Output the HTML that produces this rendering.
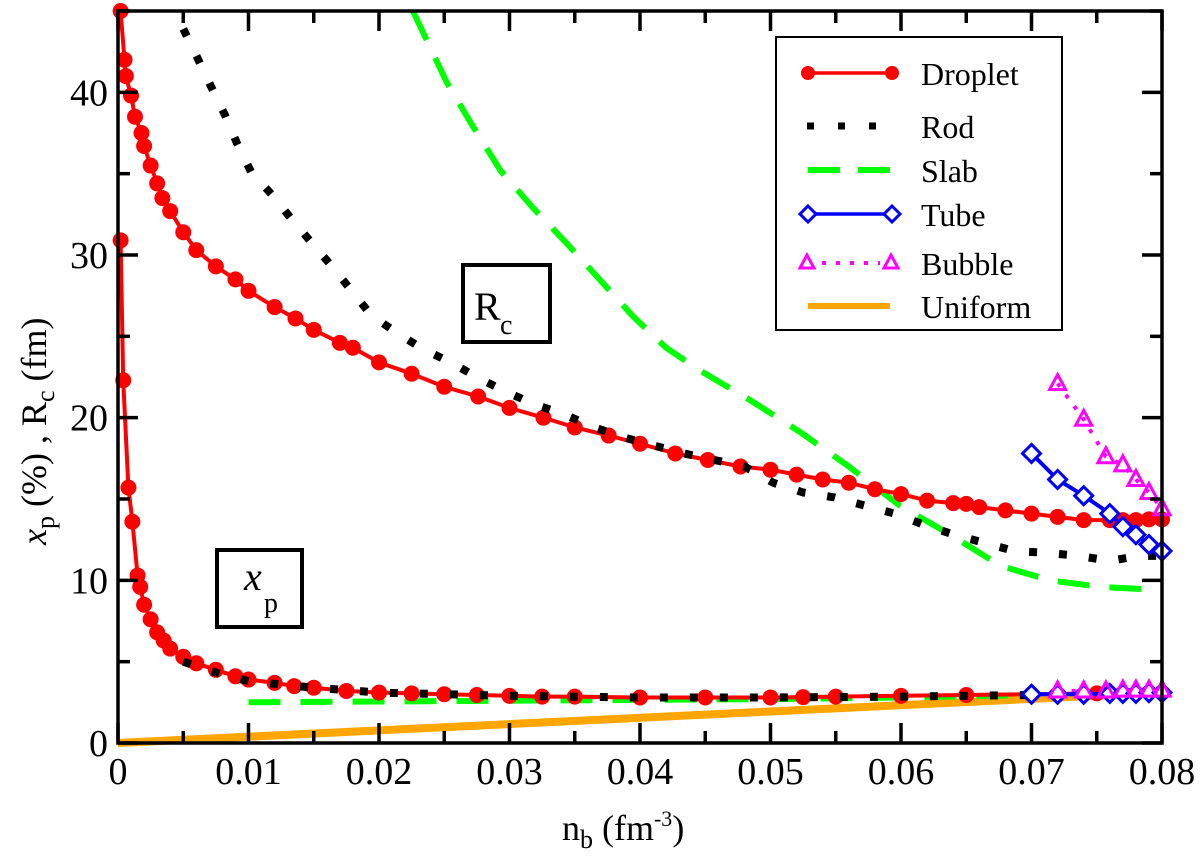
<!DOCTYPE html>
<html><head><meta charset="utf-8"><style>
html,body{margin:0;padding:0;background:#fff;}
svg, svg text{font-family:"Liberation Serif","Noto Serif CJK SC","DejaVu Serif",serif;}
</style></head><body>
<svg id="chart" width="1200" height="862" viewBox="0 0 1200 862" xmlns="http://www.w3.org/2000/svg">
<g id="marks"></g>
<rect x="118" y="11" width="1044" height="732" fill="none" stroke="#000" stroke-width="3.5"/>
<g id="axes"></g>
<g>
<rect x="463" y="265" width="87" height="77" fill="#fff" stroke="#000" stroke-width="4"/>
<text x="474" y="320" font-size="40">R</text><text x="500" y="334" font-size="28">c</text>
</g>
<g>
<rect x="217" y="550" width="85" height="77" fill="#fff" stroke="#000" stroke-width="4"/>
<text x="244" y="590" font-size="40" font-style="italic">x</text><text x="264" y="612" font-size="28">p</text>
</g>
<text x="562" y="840" font-size="36">n<tspan font-size="26" dy="8">b</tspan><tspan dy="-8"> (fm</tspan><tspan font-size="22" dy="-14">-3</tspan><tspan dy="14">)</tspan></text>
<text transform="translate(46,545) rotate(-90)" font-size="36"><tspan font-style="italic">x</tspan><tspan font-size="26" dy="8">p</tspan><tspan dy="-8"> (%) ,   R</tspan><tspan font-size="26" dy="8">c</tspan><tspan dy="-8"> (fm)</tspan></text>
<g id="legend">
<rect x="776" y="37" width="286" height="293" fill="#fff" stroke="#000" stroke-width="2"/>
</g>
</svg>
<script>
const xTicks=[0,0.01,0.02,0.03,0.04,0.05,0.06,0.07,0.08];
const xTickLabels=["0","0.01","0.02","0.03","0.04","0.05","0.06","0.07","0.08"];
const yTicks=[0,10,20,30,40];
const yTickLabels=["0","10","20","30","40"];
const dropRcX=[0.0002,0.0005,0.0006,0.001,0.0013,0.0018,0.002,0.0025,0.003,0.0034,0.004,0.005,0.006,0.0075,0.009,0.010,0.012,0.0136,0.015,0.017,0.018,0.02,0.0225,0.025,0.0276,0.03,0.0326,0.035,0.0376,0.04,0.0427,0.0452,0.0477,0.05,0.052,0.054,0.056,0.058,0.06,0.062,0.064,0.065,0.066,0.068,0.07,0.072,0.074,0.076,0.077,0.078,0.079,0.08];
const dropRcY=[45,42,41,39.8,38.5,37.5,36.7,35.5,34.4,33.5,32.7,31.4,30.3,29.3,28.5,27.8,26.8,26.1,25.4,24.6,24.3,23.4,22.7,21.9,21.3,20.6,20.0,19.4,18.9,18.4,17.8,17.4,17.0,16.8,16.5,16.2,16.0,15.6,15.3,14.9,14.75,14.7,14.5,14.3,14.1,13.9,13.7,13.7,13.7,13.7,13.75,13.75];
const dropXpX=[0.0002,0.0004,0.0008,0.0011,0.0015,0.0017,0.002,0.0025,0.003,0.0035,0.004,0.005,0.006,0.0075,0.009,0.01,0.012,0.0135,0.015,0.0175,0.02,0.0225,0.025,0.0275,0.03,0.0325,0.035,0.04,0.045,0.05,0.0525,0.055,0.06,0.065,0.07,0.075,0.08];
const dropXpY=[30.9,22.3,15.7,13.6,10.3,9.6,8.5,7.6,6.8,6.3,5.8,5.3,4.9,4.5,4.1,3.9,3.7,3.5,3.4,3.2,3.1,3.05,3.0,2.95,2.9,2.85,2.85,2.8,2.8,2.8,2.82,2.85,2.9,2.95,3.0,3.05,3.1];
const rodRcX=[0.005,0.0061,0.0071,0.0082,0.0091,0.0102,0.0118,0.0133,0.0149,0.0164,0.0179,0.0194,0.0214,0.0234,0.0255,0.0277,0.0297,0.032,0.0342,0.0365,0.0387,0.041,0.0434,0.0457,0.048,0.0502,0.0525,0.0549,0.0572,0.0595,0.0618,0.0641,0.0664,0.0687,0.0711,0.0736,0.076,0.0783,0.08];
const rodRcY=[43.9,42.1,40.4,38.6,36.9,35.1,33.7,32.2,30.7,29.3,27.8,26.3,25.2,24.2,23.4,22.4,21.6,20.8,20.2,19.4,18.8,18.3,17.8,17.4,17.0,16.0,15.4,15.1,14.6,14.1,13.4,12.8,12.3,11.8,11.7,11.5,11.2,11.5,11.5];
const rodXpX=[0.005,0.008,0.01,0.015,0.02,0.03,0.04,0.05,0.06,0.07,0.08];
const rodXpY=[5.0,4.2,3.8,3.4,3.1,2.9,2.8,2.8,2.85,2.95,3.05];
const slabRcX=[0.0226,0.0252,0.0272,0.0293,0.0318,0.0344,0.0369,0.0395,0.042,0.0446,0.0484,0.0523,0.056,0.0599,0.0638,0.0676,0.0714,0.0752,0.08];
const slabRcY=[45,40.6,37.9,35.2,32.9,30.7,28.5,26.2,24.3,22.9,21.1,19.1,17.0,14.6,12.8,10.9,10.0,9.6,9.4];
const slabXpX=[0.01,0.02,0.03,0.04,0.05,0.06,0.07];
const slabXpY=[2.5,2.55,2.6,2.65,2.7,2.8,2.95];
const tubeX=[0.070,0.072,0.074,0.076,0.077,0.078,0.079,0.08];
const tubeRcY=[17.8,16.2,15.2,14.1,13.3,12.8,12.2,11.8];
const tubeXpY=[3.0,3.0,3.0,3.05,3.05,3.05,3.1,3.1];
const bubX=[0.072,0.074,0.0757,0.077,0.078,0.079,0.08];
const bubRcY=[22.1,19.9,17.6,17.1,16.2,15.4,14.4];
const bubXpY=[3.2,3.2,3.2,3.25,3.25,3.25,3.25];
const uniX=[0,0.08];
const uniY=[0,3.1];

const NS="http://www.w3.org/2000/svg";
const X0=118,X1=1162,Y0=743,Y1=11;
function sx(v){return X0+(v-0)/(0.08)*(X1-X0);}
function sy(v){return Y0-(v-0)/(45)*(Y0-Y1);}
function mk(tag,attrs,parent){const e=document.createElementNS(NS,tag);for(const k in attrs)e.setAttribute(k,attrs[k]);parent.appendChild(e);return e;}
const marks=document.getElementById('marks');
const axes=document.getElementById('axes');
function pts(xs,ys){return xs.map((x,i)=>sx(x).toFixed(1)+','+sy(ys[i]).toFixed(1)).join(' ');}
function line(xs,ys,name,style){
  const p=mk('polyline',Object.assign({points:pts(xs,ys),fill:'none','stroke-linejoin':'round'},style),marks);
  
  
}
function circles(xs,ys,name){xs.forEach((x,i)=>{const c=mk('circle',{cx:sx(x),cy:sy(ys[i]),r:8,fill:'#f00'},marks);
  
  });}
function diamonds(xs,ys,name){xs.forEach((x,i)=>{const X=sx(x),Y=sy(ys[i]);const d=mk('polygon',{points:`${X},${Y-9} ${X+9},${Y} ${X},${Y+9} ${X-9},${Y}`,fill:'#fff',stroke:'#00f','stroke-width':3},marks);
  
  });}
function tris(xs,ys,name){xs.forEach((x,i)=>{const X=sx(x),Y=sy(ys[i]);const d=mk('polygon',{points:`${X},${Y-9} ${X+8},${Y+6} ${X-8},${Y+6}`,fill:'none',stroke:'#f0f','stroke-width':3},marks);
  
  });}

line(uniX,uniY,'uniform-line',{stroke:'#ffa500','stroke-width':8});
line(slabRcX,slabRcY,'slab-rc-line',{stroke:'#0f0','stroke-width':6,'stroke-dasharray':'32,20'});
line(slabXpX,slabXpY,'slab-xp-line',{stroke:'#0f0','stroke-width':6,'stroke-dasharray':'32,20'});
line(dropRcX,dropRcY,'droplet-rc-line',{stroke:'#f00','stroke-width':4});
circles(dropRcX,dropRcY,'droplet-rc-point');
line(dropXpX,dropXpY,'droplet-xp-line',{stroke:'#f00','stroke-width':4});
circles(dropXpX,dropXpY,'droplet-xp-point');
line(rodRcX,rodRcY,'rod-rc-line',{stroke:'#000','stroke-width':8,'stroke-dasharray':'8,22'});
line(rodXpX,rodXpY,'rod-xp-line',{stroke:'#000','stroke-width':8,'stroke-dasharray':'8,22'});
line(bubX,bubRcY,'bubble-rc-line',{stroke:'#f0f','stroke-width':4,'stroke-dasharray':'4,10'});
tris(bubX,bubRcY,'bubble-rc-point');
line(bubX,bubXpY,'bubble-xp-line',{stroke:'#f0f','stroke-width':4,'stroke-dasharray':'4,10'});
line(tubeX,tubeRcY,'tube-rc-line',{stroke:'#00f','stroke-width':4});
diamonds(tubeX,tubeRcY,'tube-rc-point');
line(tubeX,tubeXpY,'tube-xp-line',{stroke:'#00f','stroke-width':4});
diamonds(tubeX,tubeXpY,'tube-xp-point');
tris(bubX,bubXpY,'bubble-xp-point');

for(let v=0;v<=0.0801;v+=0.005){const X=sx(v);const major=Math.abs(v/0.01-Math.round(v/0.01))<1e-6;const L=major?20:12;
  mk('line',{x1:X,y1:Y0,x2:X,y2:Y0-L,stroke:'#000','stroke-width':3.5},axes);
  mk('line',{x1:X,y1:Y1,x2:X,y2:Y1+L,stroke:'#000','stroke-width':3.5},axes);}
for(let v=0;v<=45;v+=5){const Y=sy(v);const L=(v%10===0)?20:12;
  mk('line',{x1:X0,y1:Y,x2:X0+L,y2:Y,stroke:'#000','stroke-width':3.5},axes);
  mk('line',{x1:X1,y1:Y,x2:X1-L,y2:Y,stroke:'#000','stroke-width':3.5},axes);}
xTicks.forEach((v,i)=>{const t=mk('text',{x:sx(v),y:784,'font-size':38,'text-anchor':'middle'},axes);t.textContent=xTickLabels[i];
  
  });
yTicks.forEach((v,i)=>{const t=mk('text',{x:108,y:sy(v)+13,'font-size':38,'text-anchor':'end'},axes);t.textContent=yTickLabels[i];
  
  });

const lg=document.getElementById('legend');
const names=["Droplet","Rod","Slab","Tube","Bubble","Uniform"];
const ly=[73,126,170,214,263,306];
names.forEach((n,i)=>{const y=ly[i];const g=mk('g',{},lg);
  
  
  if(i===0){mk('line',{x1:808,y1:y,x2:892,y2:y,stroke:'#f00','stroke-width':3.5},g);mk('circle',{cx:808,cy:y,r:7,fill:'#f00'},g);mk('circle',{cx:892,cy:y,r:7,fill:'#f00'},g);}
  if(i===1){mk('line',{x1:807,y1:y,x2:897,y2:y,stroke:'#000','stroke-width':7,'stroke-dasharray':'7,24'},g);}
  if(i===2){mk('line',{x1:808,y1:y,x2:890,y2:y,stroke:'#0f0','stroke-width':6,'stroke-dasharray':'32,18'},g);}
  if(i===3){mk('line',{x1:808,y1:y,x2:892,y2:y,stroke:'#00f','stroke-width':3.5},g);
    [808,892].forEach(X=>mk('polygon',{points:`${X},${y-8} ${X+8},${y} ${X},${y+8} ${X-8},${y}`,fill:'#fff',stroke:'#00f','stroke-width':3},g));}
  if(i===4){mk('line',{x1:822,y1:y,x2:880,y2:y,stroke:'#f0f','stroke-width':4,'stroke-dasharray':'4,10'},g);
    [807,891].forEach(X=>mk('polygon',{points:`${X},${y-8} ${X+7},${y+5} ${X-7},${y+5}`,fill:'none',stroke:'#f0f','stroke-width':3},g));}
  if(i===5){mk('line',{x1:808,y1:y,x2:890,y2:y,stroke:'#ffa500','stroke-width':6},g);}
  const t=mk('text',{x:921,y:y+12,'font-size':32},g);t.textContent=n;});
</script>
</body></html>
